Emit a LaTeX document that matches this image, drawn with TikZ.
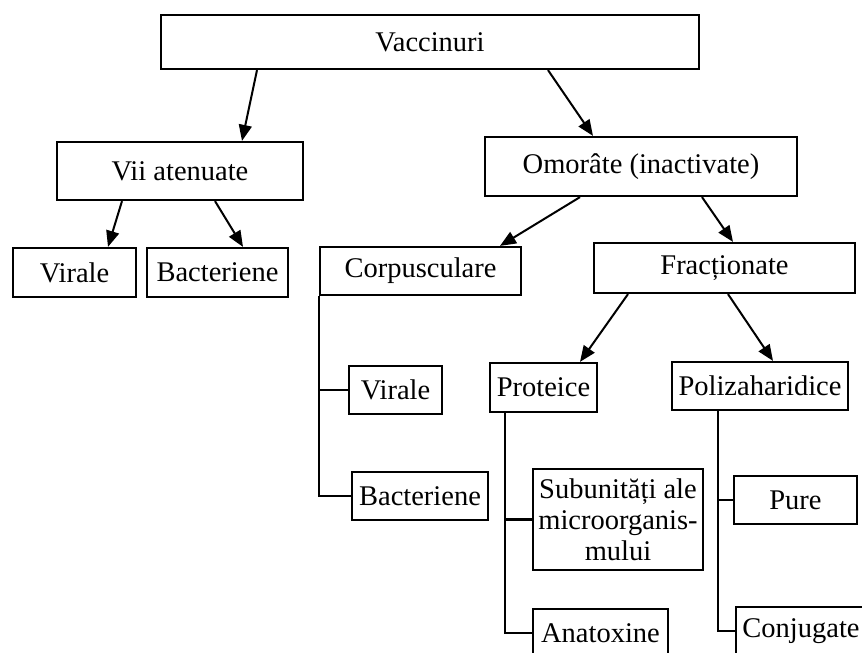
\documentclass[tikz,border=0pt]{standalone}
\usepackage{fontspec}
\setmainfont{Liberation Serif}
\usetikzlibrary{arrows.meta,calc}
\begin{document}
\begin{tikzpicture}[x=1pt,y=-1pt,
  box/.style={draw,line width=2.2pt,inner sep=0pt,font=\fontsize{28.5}{31}\selectfont},
  arr/.style={line width=2pt,-{Triangle[length=16pt,width=13pt]}},
  tree/.style={line width=2.2pt}]
\useasboundingbox (0,0) rectangle (862,653);
\clip (0,0) rectangle (862,653);
\fill[white] (0,0) rectangle (862,653);
\node[box,minimum width=538pt,minimum height=54pt] (vacc) at (430,42) {Vaccinuri};
\node[box,minimum width=246pt,minimum height=58pt] (vii) at (180,171) {Vii atenuate};
\node[box,minimum width=312pt,minimum height=59pt] (omor) at (641,166.5) {Omorâte (inactivate)};
\node[box,minimum width=123pt,minimum height=49pt] (virL) at (74.5,272.5) {Virale};
\node[box,minimum width=141pt,minimum height=49pt] (bacL) at (217.5,272.5) {Bacteriene};
\node[box,minimum width=201pt,minimum height=48pt] (corp) at (420.5,271) {Corpusculare};
\node[box,minimum width=261pt,minimum height=50pt] (frac) at (724.5,268) {Fracționate};
\node[box,minimum width=93pt,minimum height=48pt] (virM) at (395.5,390) {Virale};
\node[box,minimum width=107pt,minimum height=49pt] (prot) at (543.5,387.5) {Proteice};
\node[box,minimum width=176pt,minimum height=48pt] (poli) at (760,386) {Polizaharidice};
\node[box,minimum width=136pt,minimum height=48pt] (bacM) at (420,496) {Bacteriene};
\node[box,minimum width=170pt,minimum height=101pt,align=center] (subu) at (618,519.5) {Subunități ale\\microorganis-\\mului};
\node[box,minimum width=123pt,minimum height=48pt] (pure) at (795.5,500) {Pure};
\node[box,minimum width=135pt,minimum height=48pt] (anat) at (600.5,633) {Anatoxine};
\node[box,minimum width=130pt,minimum height=48pt] (conj) at (801,631) {Conjugate};
% arrows
\draw[arr] (257,0 |- vacc.south) -- (242,0 |- vii.north);
\draw[arr] (548,0 |- vacc.south) -- (593,0 |- omor.north);
\draw[arr] (122,0 |- vii.south) -- (108,0 |- virL.north);
\draw[arr] (215,0 |- vii.south) -- (243,0 |- bacL.north);
\draw[arr] (580,0 |- omor.south) -- (500,0 |- corp.north);
\draw[arr] (702,0 |- omor.south) -- (733,0 |- frac.north);
\draw[arr] (628,0 |- frac.south) -- (580,0 |- prot.north);
\draw[arr] (728,0 |- frac.south) -- (773,0 |- poli.north);
% trees
\draw[tree] (corp.south west) |- (bacM.west);
\draw[tree] (corp.south west |- virM.west) -- (virM.west);
\draw[tree] (505,0 |- prot.south) |- (anat.west);
\draw[tree] (505,0 |- subu.west) -- (subu.west);
\draw[tree] (718,0 |- poli.south) |- (conj.west);
\draw[tree] (718,0 |- pure.west) -- (pure.west);
\end{tikzpicture}
\end{document}
